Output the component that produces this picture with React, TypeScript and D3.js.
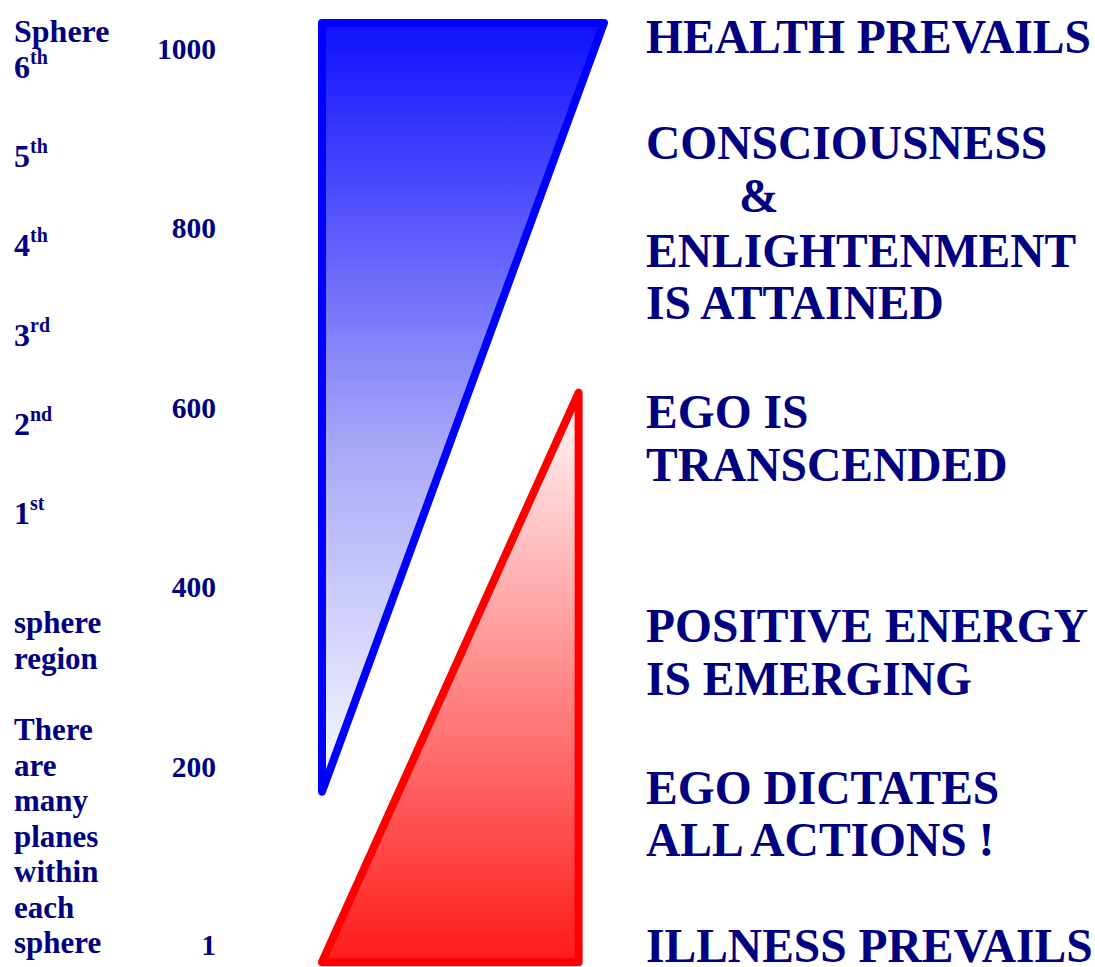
import React from 'react';
import * as d3 from 'd3';

// value scale labels on the left
const scaleTicks = [1000, 800, 600, 400, 200, 1];

// sphere labels (ordinal, top to bottom)
const spheres = [
  { n: '6', sup: 'th' },
  { n: '5', sup: 'th' },
  { n: '4', sup: 'th' },
  { n: '3', sup: 'rd' },
  { n: '2', sup: 'nd' },
  { n: '1', sup: 'st' },
];

const noteTop = ['sphere', 'region'];
const noteBottom = ['There', 'are', 'many', 'planes', 'within', 'each', 'sphere'];

// triangles as [x (0-100), value]
const healthTriangle: [number, number][] = [[0, 1029], [100, 1029], [0, 172]];
const illnessTriangle: [number, number][] = [[91, 617], [91, -18], [0, -18]];

// right-hand captions: text, value level of baseline, indent
const captions: { text: string; v: number; indent?: number }[] = [
  { text: 'HEALTH PREVAILS', v: 996 },
  { text: 'CONSCIOUSNESS', v: 877 },
  { text: '&', v: 818, indent: 93 },
  { text: 'ENLIGHTENMENT', v: 757 },
  { text: 'IS ATTAINED', v: 699 },
  { text: 'EGO IS', v: 578 },
  { text: 'TRANSCENDED', v: 518 },
  { text: 'POSITIVE ENERGY', v: 339 },
  { text: 'IS EMERGING', v: 280 },
  { text: 'EGO DICTATES', v: 158 },
  { text: 'ALL ACTIONS !', v: 100 },
  { text: 'ILLNESS PREVAILS', v: -18 },
];

const W = 1095;
const H = 967;
const NAVY = '#000080';
const FONT = '"Liberation Serif", "Times New Roman", serif';

export default function App() {
  const y = d3.scaleLinear().domain([0, 1000]).range([946, 49]);
  const x = d3.scaleLinear().domain([0, 100]).range([322, 604]);
  const sphereY = d3.scalePoint<string>()
    .domain(spheres.map(s => s.n))
    .range([78, 524]);

  const line = d3.line<[number, number]>()
    .x(d => x(d[0]))
    .y(d => y(d[1]))
    .curve(d3.curveLinearClosed);

  return (
    <svg width={W} height={H} style={{ position: 'absolute', left: 0, top: 0, background: '#fff' }}
      fontFamily={FONT} fontWeight="bold" fill={NAVY}>
      <defs>
        <linearGradient id="blueGrad" x1="0" y1="0" x2="0" y2="1">
          <stop offset="0%" stopColor="#1010ff" />
          <stop offset="55%" stopColor="#a8a8f8" />
          <stop offset="100%" stopColor="#fafaff" />
        </linearGradient>
        <linearGradient id="redGrad" x1="0" y1="0" x2="0" y2="1">
          <stop offset="0%" stopColor="#fffafa" />
          <stop offset="100%" stopColor="#ff1a1a" />
        </linearGradient>
      </defs>

      <path d={line(healthTriangle) || ''} fill="url(#blueGrad)" stroke="#0000ff"
        strokeWidth={8} strokeLinejoin="round" />
      <path d={line(illnessTriangle) || ''} fill="url(#redGrad)" stroke="#ff0000"
        strokeWidth={8} strokeLinejoin="round" />

      {/* left title */}
      <text x={14} y={42} fontSize={32}>Sphere</text>

      {spheres.map(s => (
        <text key={s.n} x={14} y={sphereY(s.n)} fontSize={32}>
          {s.n}
          <tspan fontSize={20} dy={-14}>{s.sup}</tspan>
        </text>
      ))}

      {noteTop.map((t, i) => (
        <text key={t} x={14} y={633 + i * 35.5} fontSize={31}>{t}</text>
      ))}
      {noteBottom.map((t, i) => (
        <text key={t + i} x={14} y={740 + i * 35.5} fontSize={31}>{t}</text>
      ))}

      {scaleTicks.map(v => (
        <text key={v} x={216} y={y(v)} dy={10} fontSize={29.5} textAnchor="end">{v}</text>
      ))}

      {captions.map(c => (
        <text key={c.text} x={646 + (c.indent || 0)} y={y(c.v)} fontSize={47.5}>{c.text}</text>
      ))}
    </svg>
  );
}
